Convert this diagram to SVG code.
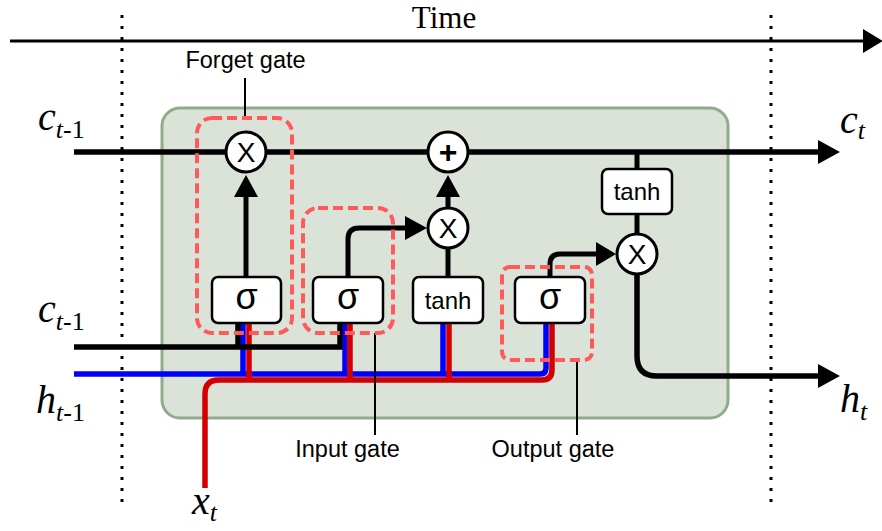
<svg xmlns="http://www.w3.org/2000/svg" width="882" height="531" viewBox="0 0 882 531">
<defs>
<style>
.sans{font-family:"Liberation Sans",Arial,sans-serif;fill:#000}
.serif{font-family:"Liberation Serif","Times New Roman",serif;fill:#000}
.it{font-style:italic}
.ln{fill:none;stroke:#000;stroke-width:5.5}
.thin{fill:none;stroke:#000;stroke-width:5}
.blue{fill:none;stroke:#0000ff;stroke-width:5.5}
.red{fill:none;stroke:#d40000;stroke-width:5.5}
.dash{fill:none;stroke:#ff5a5a;stroke-width:4;stroke-dasharray:10 5}
.dots{fill:none;stroke:#000;stroke-width:3;stroke-dasharray:3 8}
.lead{fill:none;stroke:#000;stroke-width:2}
.box{fill:#fff;stroke:#000;stroke-width:2.5}
.circ{fill:#fff;stroke:#000;stroke-width:3}
.sig{font-size:36px}
.tanh{font-size:24px}
.mul{font-size:28px}
.lab{font-size:23.5px}
</style>
<marker id="ah" markerUnits="userSpaceOnUse" markerWidth="22" markerHeight="24" refX="0" refY="12" orient="auto" viewBox="0 0 22 24">
<path d="M0,0 L22,12 L0,24 z" fill="#000"/>
</marker>
<marker id="ahs" markerUnits="userSpaceOnUse" markerWidth="20" markerHeight="24" refX="0" refY="12" orient="auto" viewBox="0 0 20 24">
<path d="M0,0 L20,12 L0,24 z" fill="#000"/>
</marker>
</defs>
<rect width="882" height="531" fill="#fff"/>

<g id="time">
<line x1="10" y1="41" x2="863" y2="41" stroke="#000" stroke-width="3" marker-end="url(#ahs)"/>
<text class="serif" x="444" y="28" font-size="31" text-anchor="middle">Time</text>
</g>
<g id="boundaries">
<line class="dots" x1="122" y1="15" x2="122" y2="508"/>
<line class="dots" x1="771" y1="15" x2="771" y2="508"/>
</g>

<g id="cell">
<rect x="162" y="108" width="566" height="310" rx="18" fill="#dbe3d9" stroke="#8fac8b" stroke-width="3"/>
</g>

<g id="connectors">
<path class="blue" d="M74,374 H540 Q546,374 546,368 V323"/>
<path class="blue" d="M243,374 V323 M345,374 V323 M443,374 V323"/>
<path class="red" d="M205,488 V394 Q205,380 219,380 H542 Q552,380 552,370 V323"/>
<path class="red" d="M249,380 V323 M350,380 V323 M449,380 V323"/>
<path class="ln" d="M74,347 H340 V323 M238,347 V323"/>
<line class="ln" x1="74" y1="152" x2="818" y2="152" marker-end="url(#ah)"/>
<line class="thin" x1="246" y1="277" x2="246" y2="197" marker-end="url(#ah)"/>
<path class="thin" d="M348,277 V239 Q348,228 359,228 H405" marker-end="url(#ah)"/>
<line class="thin" x1="448" y1="277" x2="448" y2="249"/>
<line class="thin" x1="448" y1="207" x2="448" y2="197" marker-end="url(#ah)"/>
<path class="thin" d="M550,277 V264 Q550,254 560,254 H596" marker-end="url(#ahs)"/>
<line class="thin" x1="637" y1="152" x2="637" y2="233"/>
<path class="ln" d="M637,275 V356 Q637,376 657,376 H818" marker-end="url(#ah)"/>
<line class="lead" x1="245" y1="78" x2="245" y2="118"/>
<line class="lead" x1="375" y1="333" x2="375" y2="435"/>
<line class="lead" x1="577" y1="360" x2="577" y2="435"/>
</g>

<g id="forget-gate">
<rect class="dash" x="197" y="118" width="95" height="215" rx="15"/>
<circle class="circ" cx="246" cy="152" r="20"/>
<text class="sans mul" x="246" y="162" text-anchor="middle">X</text>
<rect class="box" x="212" y="277" width="69" height="46" rx="6"/>
<text class="sans sig" x="246.5" y="309" text-anchor="middle">σ</text>
<text class="sans lab" x="245.5" y="68" text-anchor="middle">Forget gate</text>
</g>

<g id="input-gate">
<rect class="dash" x="303" y="208" width="90" height="125" rx="15"/>
<rect class="box" x="313" y="277" width="70" height="46" rx="6"/>
<text class="sans sig" x="348" y="309" text-anchor="middle">σ</text>
<text class="sans lab" x="347.5" y="457" text-anchor="middle">Input gate</text>
</g>

<g id="input-tanh">
<rect class="box" x="413" y="277" width="70" height="46" rx="6"/>
<text class="sans tanh" x="448" y="308.5" text-anchor="middle">tanh</text>
</g>

<g id="input-mult">
<circle class="circ" cx="448" cy="228" r="20"/>
<text class="sans mul" x="448" y="238" text-anchor="middle">X</text>
</g>

<g id="cell-add">
<circle class="circ" cx="448" cy="152" r="20"/>
<text class="sans" x="448" y="163" font-size="32" font-weight="bold" text-anchor="middle">+</text>
</g>

<g id="output-gate">
<rect class="dash" x="502" y="267" width="90" height="93" rx="8"/>
<rect class="box" x="515" y="277" width="70" height="46" rx="6"/>
<text class="sans sig" x="550" y="309" text-anchor="middle">σ</text>
<text class="sans lab" x="553" y="457" text-anchor="middle">Output gate</text>
</g>

<g id="output-tanh">
<rect class="box" x="602" y="169" width="70" height="45" rx="6"/>
<text class="sans tanh" x="637" y="200" text-anchor="middle">tanh</text>
</g>

<g id="output-mult">
<circle class="circ" cx="637" cy="254" r="20"/>
<text class="sans mul" x="637" y="264" text-anchor="middle">X</text>
</g>

<g id="labels">
<text class="serif it" x="38" y="130" font-size="40">c<tspan font-size="26" dy="8">t</tspan><tspan font-size="26" font-style="normal">-1</tspan></text>
<text class="serif it" x="38" y="322" font-size="40">c<tspan font-size="26" dy="8">t</tspan><tspan font-size="26" font-style="normal">-1</tspan></text>
<text class="serif it" x="36" y="413" font-size="40">h<tspan font-size="26" dy="8">t</tspan><tspan font-size="26" font-style="normal">-1</tspan></text>
<text class="serif it" x="192" y="514" font-size="40">x<tspan font-size="26" dy="7">t</tspan></text>
<text class="serif it" x="840" y="133" font-size="40">c<tspan font-size="26" dy="6">t</tspan></text>
<text class="serif it" x="840" y="412" font-size="40">h<tspan font-size="26" dy="8">t</tspan></text>
</g>
</svg>
